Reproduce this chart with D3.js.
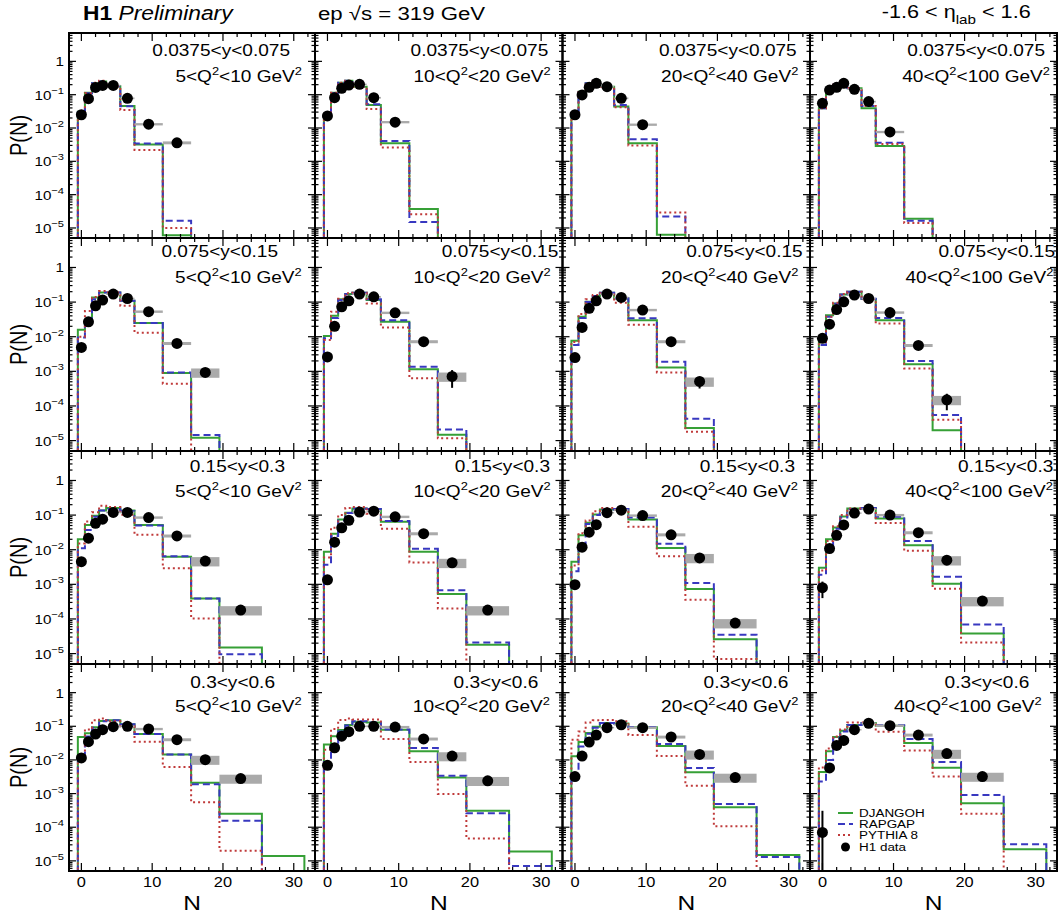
<!DOCTYPE html>
<html><head><meta charset="utf-8">
<script src="https://cdn.jsdelivr.net/npm/d3@7"></script>
<style>body{margin:0;background:#fff} svg{display:block} text{font-family:"Liberation Sans",Arial,Helvetica,sans-serif;}</style>
</head><body><svg id="c" width="1058" height="919"></svg>
<script>
// ---------------- data ----------------
const binEdges = [-0.5,0.5,1.5,2.5,3.5,5.5,7.5,11.5,15.5,19.5,25.5,31.5];
const dataN = [0,1,2,3,4.5,6.5,9.5,13.5,17.5,22.5];
const yRangeLabels = ["0.0375<y<0.075","0.075<y<0.15","0.15<y<0.3","0.3<y<0.6"];
const q2Ranges = [["5","10"],["10","20"],["20","40"],["40","100"]];
const xTicks = [0,10,20,30];
const yTickExps = [0,-1,-2,-3,-4,-5];
const modelNames = ["DJANGOH","RAPGAP","PYTHIA 8"];
// panels ordered row by row (y bin), then column (Q2 bin)
const djangoh = [
 [0.031,0.115,0.22,0.25,0.18,0.046,0.0032,6e-6,0,0,0],
 [0.025,0.115,0.23,0.26,0.174,0.049,0.0035,3.7e-5,0,0,0],
 [0.028,0.123,0.22,0.26,0.174,0.044,0.0035,6.3e-6,0,0,0],
 [0.039,0.145,0.195,0.245,0.155,0.039,0.0029,1.9e-5,0,0,0],
 [0.016,0.03,0.135,0.19,0.19,0.11,0.025,9e-4,1.2e-5,0,0],
 [0.0105,0.04,0.12,0.17,0.185,0.114,0.027,0.00115,1.47e-5,0,0],
 [0.0076,0.038,0.102,0.149,0.185,0.127,0.030,0.0013,2.3e-5,0,0],
 [0.0083,0.042,0.091,0.165,0.2,0.122,0.030,0.0016,2.0e-5,0,0],
 [0.02,0.052,0.095,0.136,0.16,0.136,0.052,0.0063,3.9e-4,1.5e-5,0],
 [0.0087,0.029,0.075,0.117,0.155,0.15,0.064,0.0087,5.3e-4,1.8e-5,0],
 [0.0045,0.026,0.06,0.104,0.145,0.15,0.075,0.0113,7.3e-4,2.6e-5,0],
 [0.003,0.02,0.044,0.091,0.155,0.16,0.08,0.0135,0.00104,3.8e-5,0],
 [0.048,0.062,0.093,0.143,0.15,0.115,0.059,0.0144,0.0021,2.5e-4,1.4e-5],
 [0.029,0.051,0.078,0.109,0.137,0.13,0.079,0.018,0.0030,3.1e-4,1.9e-5],
 [0.0128,0.034,0.063,0.097,0.125,0.12,0.093,0.026,0.0043,3.9e-4,1.5e-5],
 [0.0044,0.018,0.048,0.074,0.109,0.125,0.104,0.032,0.0059,5.2e-4,2.2e-5]
];
const rapgap = [
 [0.030,0.11,0.22,0.25,0.18,0.045,0.0034,1.65e-5,0,0,0],
 [0.024,0.11,0.23,0.26,0.174,0.052,0.0041,1.5e-5,0,0,0],
 [0.028,0.12,0.22,0.26,0.174,0.049,0.0046,2.2e-5,0,0,0],
 [0.039,0.145,0.2,0.25,0.16,0.046,0.0036,1.65e-5,0,0,0],
 [0.0095,0.03,0.12,0.19,0.19,0.11,0.025,9.2e-4,1.45e-5,0,0],
 [0.009,0.035,0.115,0.17,0.185,0.12,0.03,0.00136,2.1e-5,0,0],
 [0.0058,0.035,0.1,0.15,0.185,0.13,0.034,0.0019,4.3e-5,0,0],
 [0.0058,0.038,0.09,0.165,0.2,0.125,0.035,0.002,5.5e-5,0,0],
 [0.011,0.037,0.09,0.136,0.15,0.13,0.05,0.0065,3.9e-4,9.5e-6,0],
 [0.0037,0.025,0.07,0.115,0.155,0.15,0.068,0.0107,6.7e-4,2.1e-5,0],
 [0.0024,0.015,0.055,0.1,0.145,0.15,0.085,0.0148,0.0011,3.5e-5,0],
 [0.0019,0.0115,0.04,0.085,0.15,0.16,0.09,0.018,0.00166,6.9e-5,0],
 [0.011,0.05,0.09,0.14,0.15,0.115,0.059,0.0144,0.0019,1.56e-4,0],
 [0.0087,0.027,0.07,0.105,0.14,0.13,0.08,0.0225,0.0034,2.6e-4,7e-6],
 [0.004,0.025,0.06,0.09,0.125,0.12,0.095,0.030,0.0058,4.9e-4,1.3e-5],
 [0.0023,0.01,0.045,0.07,0.11,0.125,0.107,0.042,0.0087,9.1e-4,3.1e-5]
];
const pythia8 = [
 [0.030,0.11,0.23,0.26,0.18,0.035,0.0022,1.0e-5,0,0,0],
 [0.025,0.115,0.23,0.26,0.17,0.037,0.0026,2.6e-5,0,0,0],
 [0.028,0.12,0.22,0.26,0.17,0.042,0.003,2.9e-5,0,0,0],
 [0.039,0.145,0.2,0.25,0.16,0.046,0.0033,1.4e-5,0,0,0],
 [0.01,0.055,0.14,0.21,0.19,0.078,0.013,4.4e-4,0,0,0],
 [0.008,0.053,0.125,0.18,0.185,0.091,0.0186,6.3e-4,1.17e-5,0,0],
 [0.007,0.045,0.12,0.16,0.18,0.095,0.022,9.3e-4,1.8e-5,0,0],
 [0.007,0.038,0.095,0.17,0.2,0.12,0.024,0.0012,4e-5,0,0],
 [0.015,0.065,0.12,0.186,0.17,0.102,0.027,0.0029,1.03e-4,0,0],
 [0.006,0.043,0.1,0.16,0.17,0.11,0.04,0.0043,2.0e-4,0,0],
 [0.0035,0.03,0.07,0.13,0.16,0.14,0.046,0.0065,3.6e-4,7e-6,0],
 [0.0025,0.018,0.048,0.1,0.155,0.15,0.059,0.0093,7.5e-4,2.1e-5,0],
 [0.012,0.08,0.15,0.17,0.14,0.1,0.035,0.0062,5.5e-4,2.0e-5,0],
 [0.02,0.083,0.153,0.17,0.16,0.16,0.042,0.0087,9.7e-4,4.6e-5,0],
 [0.04,0.07,0.13,0.15,0.155,0.14,0.055,0.013,0.0017,1.07e-4,0],
 [0.006,0.022,0.05,0.08,0.13,0.13,0.069,0.019,0.0032,2.5e-4,0]
];
const h1data = [
 [0.025,0.076,0.165,0.19,0.19,0.078,0.013,0.0036],
 [0.023,0.081,0.156,0.195,0.205,0.081,0.015],
 [0.025,0.098,0.166,0.22,0.174,0.078,0.0126],
 [0.055,0.138,0.166,0.22,0.145,0.062,0.0076],
 [0.0049,0.027,0.078,0.114,0.17,0.127,0.053,0.0064,9.3e-4],
 [0.0026,0.020,0.073,0.109,0.17,0.142,0.049,0.0072,7.1e-4],
 [0.0025,0.0186,0.066,0.109,0.17,0.136,0.059,0.0072,5.1e-4],
 [0.009,0.023,0.061,0.102,0.16,0.127,0.05,0.0056,1.5e-4],
 [0.0045,0.0215,0.058,0.076,0.119,0.119,0.085,0.025,0.0047,1.8e-4],
 [0.00135,0.0165,0.043,0.071,0.122,0.13,0.089,0.029,0.0042,1.8e-4],
 [9.8e-4,0.0118,0.032,0.053,0.117,0.139,0.097,0.027,0.0058,7.6e-5],
 [8e-4,0.0108,0.026,0.052,0.114,0.149,0.1,0.031,0.005,3.3e-4],
 [0.0115,0.035,0.059,0.079,0.097,0.1,0.083,0.04,0.0102,0.0028],
 [0.0069,0.023,0.051,0.069,0.1,0.1,0.095,0.042,0.013,0.0024],
 [0.0032,0.013,0.034,0.055,0.091,0.111,0.091,0.048,0.0146,0.003],
 [7e-5,0.0058,0.027,0.038,0.079,0.123,0.104,0.055,0.0154,0.0032]
];
// relative systematic uncertainty per data bin
const sysRel = [0.05,0.05,0.05,0.05,0.05,0.06,0.08,0.1,0.3,0.3];
// default relative statistical uncertainty, and the larger ones [panel, bin, rel]
const statRelDefault = 0.03;
const statRelLarge = [[5,8,0.53],[6,8,0.37],[7,8,0.5],[11,0,0.5],[15,0,3.4]];

// ---------------- layout ----------------
const colEdges = [69,315,562.5,810,1057];
const rowEdges = [33,238,451,664,871];
const xDomain = [-1.75,33];
const yDomain = [5e-6,7.1];
const SX = 1.17; // horizontal text stretch of the original
const colors = {dj:"#36a036", ra:"#3838c0", py:"#c03a3a", sys:"#aaaaaa"};
const line1Right = [[290,548.3,796.7,1045],[278,558.3,802.7,1055],[285,550,795,1053.3],[275,538.3,788.3,1029.3]];
const line2Right = [[302,550.7,798.3,1050],[301.7,550.7,798.3,1053.3],[301.7,550.7,798,1053],[301.7,550,798.3,1041.7]];
const line1Base = [23,19,20.7,24.3];
const line2Base = [48.7,45,45.7,47.7];

const svg = d3.select("#c");

function rich(parent, x, y, anchor, size, segs, extra){
  const t = parent.append("text")
    .attr("transform", `translate(${x},${y}) scale(${SX},1)` + (extra||""))
    .attr("text-anchor", anchor).attr("font-size", size).attr("fill","#000");
  let cur = 0;
  segs.forEach(s => {
    const o = (typeof s === "string") ? {t:s} : s;
    const off = o.off || 0;
    const sp = t.append("tspan").text(o.t).attr("dy", off - cur);
    if (o.size) sp.attr("font-size", o.size);
    if (o.weight) sp.attr("font-weight", o.weight);
    if (o.style) sp.attr("font-style", o.style);
    cur = off;
  });
  return t;
}

const defs = svg.append("defs");

for (let r=0;r<4;r++){
  for (let c=0;c<4;c++){
    const p = r*4+c;
    const x0=colEdges[c], x1=colEdges[c+1], y0=rowEdges[r], y1=rowEdges[r+1];
    const x = d3.scaleLinear().domain(xDomain).range([x0,x1]);
    const y = d3.scaleLog().domain(yDomain).range([y1,y0]);
    const g = svg.append("g");
    defs.append("clipPath").attr("id","cp"+p).append("rect")
      .attr("x",x0).attr("y",y0).attr("width",x1-x0).attr("height",y1-y0);
    const gc = g.append("g").attr("clip-path",`url(#cp${p})`);

    // histograms
    const hist = (vals) => {
      const lo = 1e-6;
      const pts = [[binEdges[0], lo]];
      vals.forEach((v,i)=>{ const vv=Math.max(v,lo); pts.push([binEdges[i],vv],[binEdges[i+1],vv]); });
      pts.push([binEdges[binEdges.length-1], lo]);
      return d3.line().x(d=>x(d[0])).y(d=>y(d[1]))(pts);
    };
    gc.append("path").attr("d",hist(djangoh[p])).attr("fill","none").attr("stroke",colors.dj).attr("stroke-width",2);
    gc.append("path").attr("d",hist(rapgap[p])).attr("fill","none").attr("stroke",colors.ra).attr("stroke-width",2).attr("stroke-dasharray","7,4");
    gc.append("path").attr("d",hist(pythia8[p])).attr("fill","none").attr("stroke",colors.py).attr("stroke-width",2).attr("stroke-dasharray","2,3");

    // data
    const dv = h1data[p];
    dv.forEach((v,i)=>{
      const s = sysRel[i];
      gc.append("rect").attr("x",x(binEdges[i])).attr("width",x(binEdges[i+1])-x(binEdges[i]))
        .attr("y",y(v*(1+s))).attr("height",y(v*(1-s))-y(v*(1+s))).attr("fill",colors.sys);
    });
    dv.forEach((v,i)=>{
      let rel = statRelDefault;
      statRelLarge.forEach(e=>{ if(e[0]===p && e[1]===i) rel=e[2]; });
      const lo = Math.max(v*(1-rel), 1e-6);
      gc.append("line").attr("x1",x(dataN[i])).attr("x2",x(dataN[i]))
        .attr("y1",y(v*(1+rel))).attr("y2",y(lo)).attr("stroke","#000").attr("stroke-width",2);
    });
    dv.forEach((v,i)=>{
      g.append("circle").attr("cx",x(dataN[i])).attr("cy",y(v)).attr("r",5.5).attr("fill","#000");
    });

    // ticks
    const tk = g.append("g").attr("stroke","#000").attr("stroke-width",1.2);
    for (let t=0;t<=32;t+=2){
      const L = (t%10===0)?8:4;
      tk.append("line").attr("x1",x(t)).attr("x2",x(t)).attr("y1",y1).attr("y2",y1-L);
      tk.append("line").attr("x1",x(t)).attr("x2",x(t)).attr("y1",y0).attr("y2",y0+L);
    }
    for (let e=-6;e<=0;e++){
      for (let k=1;k<=9;k++){
        const v = k*Math.pow(10,e);
        if (v<yDomain[0] || v>yDomain[1]) continue;
        const L = (k===1)?7:3.5;
        tk.append("line").attr("x1",x0).attr("x2",x0+L).attr("y1",y(v)).attr("y2",y(v));
        tk.append("line").attr("x1",x1).attr("x2",x1-L).attr("y1",y(v)).attr("y2",y(v));
      }
    }
    // frame
    g.append("rect").attr("x",x0).attr("y",y0).attr("width",x1-x0).attr("height",y1-y0)
      .attr("fill","none").attr("stroke","#000").attr("stroke-width",2);

    // panel labels
    rich(g, line1Right[r][c], y0+line1Base[r], "end", 16.3, [yRangeLabels[r]]);
    rich(g, line2Right[r][c], y0+line2Base[r], "end", 16.3,
      [q2Ranges[c][0]+"<Q", {t:"2",size:11,off:-7}, {t:"<"+q2Ranges[c][1]+" GeV",off:0}, {t:"2",size:11,off:-7}]);

    // y tick labels
    if (c===0){
      yTickExps.forEach(e=>{
        const yy = y(Math.pow(10,e));
        if (e===0) rich(g, 64, yy+5, "end", 13, ["1"]);
        else rich(g, 64, yy+5, "end", 13, ["10",{t:"\u2212"+(-e),size:9.5,off:-6}]);
      });
      rich(g, 27, (y0+y1)/2, "middle", 20, ["P(N)"], " rotate(-90)");
    }
    // x tick labels
    if (r===3){
      xTicks.forEach(t=>{ rich(g, x(t), 886.7, "middle", 14, [String(t)]); });
      rich(g, (x0+x1)/2, 910, "middle", 21, ["N"]);
    }
    // legend
    if (r===3 && c===3){
      const lx0=838, lx1=853, tx=859, ys=[813,824,835,847];
      const lg = g.append("g");
      lg.append("line").attr("x1",lx0).attr("x2",lx1).attr("y1",ys[0]).attr("y2",ys[0]).attr("stroke",colors.dj).attr("stroke-width",2);
      lg.append("line").attr("x1",lx0).attr("x2",lx1).attr("y1",ys[1]).attr("y2",ys[1]).attr("stroke",colors.ra).attr("stroke-width",2).attr("stroke-dasharray","7,4");
      lg.append("line").attr("x1",lx0).attr("x2",lx1).attr("y1",ys[2]).attr("y2",ys[2]).attr("stroke",colors.py).attr("stroke-width",2).attr("stroke-dasharray","2,3");
      lg.append("circle").attr("cx",(lx0+lx1)/2).attr("cy",ys[3]).attr("r",4.5).attr("fill","#000");
      modelNames.concat(["H1 data"]).forEach((n,i)=>{ rich(lg, tx, ys[i]+4.2, "start", 11.5, [n]); });
    }
  }
}

// header
rich(svg, 83, 20, "start", 19.5, [{t:"H1",weight:"bold"},{t:" Preliminary",style:"italic"}]);
rich(svg, 318, 20, "start", 19, ["ep \u221As = 319 GeV"]);
rich(svg, 881.7, 18.3, "start", 18.5, ["-1.6 < \u03B7",{t:"lab",size:13,off:6},{t:" < 1.6",off:0}]);
</script></body></html>
